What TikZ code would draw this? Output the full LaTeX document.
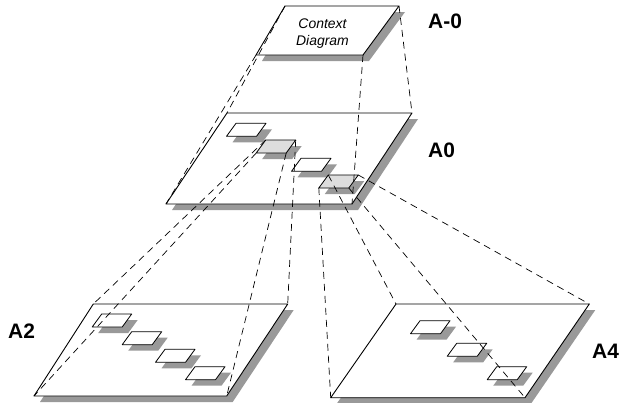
\documentclass[tikz,border=0pt]{standalone}
\usepackage{fontspec}
\setmainfont{Liberation Sans}
\definecolor{shadowgray}{HTML}{999999}
\definecolor{boxgray}{HTML}{DDDDDD}
\tikzset{
  plane/.style={draw=black, fill=white, line width=0.9bp, line join=round},
  shade/.style={fill=shadowgray, draw=none},
  wbox/.style={draw=black, fill=white, line width=0.8bp, line join=round},
  gbox/.style={draw=black, fill=boxgray, line width=0.8bp, line join=round},
  proj/.style={draw=black, line width=0.7bp, dash pattern=on 7bp off 5bp},
  lbl/.style={font=\fontsize{21}{25}\selectfont\bfseries, inner sep=0pt, anchor=base west},
  ctxt/.style={font=\fontsize{14}{17}\selectfont\itshape, inner sep=0pt, anchor=base},
}
% plane: name, tl, tr, br, bl
\newcommand\mkplane[5]{%
  \coordinate (#1-tl) at (#2);
  \coordinate (#1-tr) at (#3);
  \coordinate (#1-br) at (#4);
  \coordinate (#1-bl) at (#5);
  \fill[shade] ([shift={(6,6)}]#1-tl) -- ([shift={(6,6)}]#1-tr) -- ([shift={(6,6)}]#1-br) -- ([shift={(6,6)}]#1-bl) -- cycle;
  \draw[plane] (#1-tl) -- (#1-tr) -- (#1-br) -- (#1-bl) -- cycle;
}
% small box: name, x, y (top left), style
\newcommand\mkbox[4]{%
  \coordinate (#1-tl) at (#2,#3);
  \coordinate (#1-tr) at ([shift={(30,0)}]#1-tl);
  \coordinate (#1-br) at ([shift={(20.5,13)}]#1-tl);
  \coordinate (#1-bl) at ([shift={(-9.5,13)}]#1-tl);
  \fill[shade] ([shift={(6,6)}]#1-tl) -- ([shift={(6,6)}]#1-tr) -- ([shift={(6,6)}]#1-br) -- ([shift={(6,6)}]#1-bl) -- cycle;
  \draw[#4] (#1-tl) -- (#1-tr) -- (#1-br) -- (#1-bl) -- cycle;
}
\begin{document}
\begin{tikzpicture}[x=1bp, y=-1bp]
\useasboundingbox (0,0) rectangle (622,402);
% planes
\mkplane{ctx}{285,6}{399,6}{363,55}{256,55}
\mkplane{a0}{227,113}{412,113}{352,204}{166,204}
\mkplane{a2}{93.3,304}{287.7,304}{226.7,396}{34,396}
\mkplane{a4}{396,304}{589.3,304}{525,397.7}{330.7,397.7}
% boxes in A0
\mkbox{p1}{236}{123.3}{wbox}
\mkbox{p2}{265.7}{140}{gbox}
\mkbox{p3}{301}{158.3}{wbox}
\mkbox{p4}{328.3}{175}{gbox}
% boxes in A2
\mkbox{q1}{101.7}{314}{wbox}
\mkbox{q2}{131.7}{331.7}{wbox}
\mkbox{q3}{165}{349.3}{wbox}
\mkbox{q4}{195}{366.7}{wbox}
% boxes in A4
\mkbox{r1}{420}{320.7}{wbox}
\mkbox{r2}{456.7}{343.3}{wbox}
\mkbox{r3}{496.7}{366.7}{wbox}
% projection lines
\foreach \c in {tl,tr,br,bl} {
  \draw[proj] (ctx-\c) -- (a0-\c);
  \draw[proj] (p2-\c) -- (a2-\c);
  \draw[proj] (p4-\c) -- (a4-\c);
}
% texts
\node[ctxt] (ctxA) at (322.5,28) {Context};
\node[ctxt] (ctxB) at (322.5,45) {Diagram};
\node[lbl] (lctx) at (428,28) {A-0};
\node[lbl] (la0) at (428,157) {A0};
\node[lbl] (la2) at (8,338) {A2};
\node[lbl] (la4) at (592,358) {A4};
\end{tikzpicture}
\end{document}
